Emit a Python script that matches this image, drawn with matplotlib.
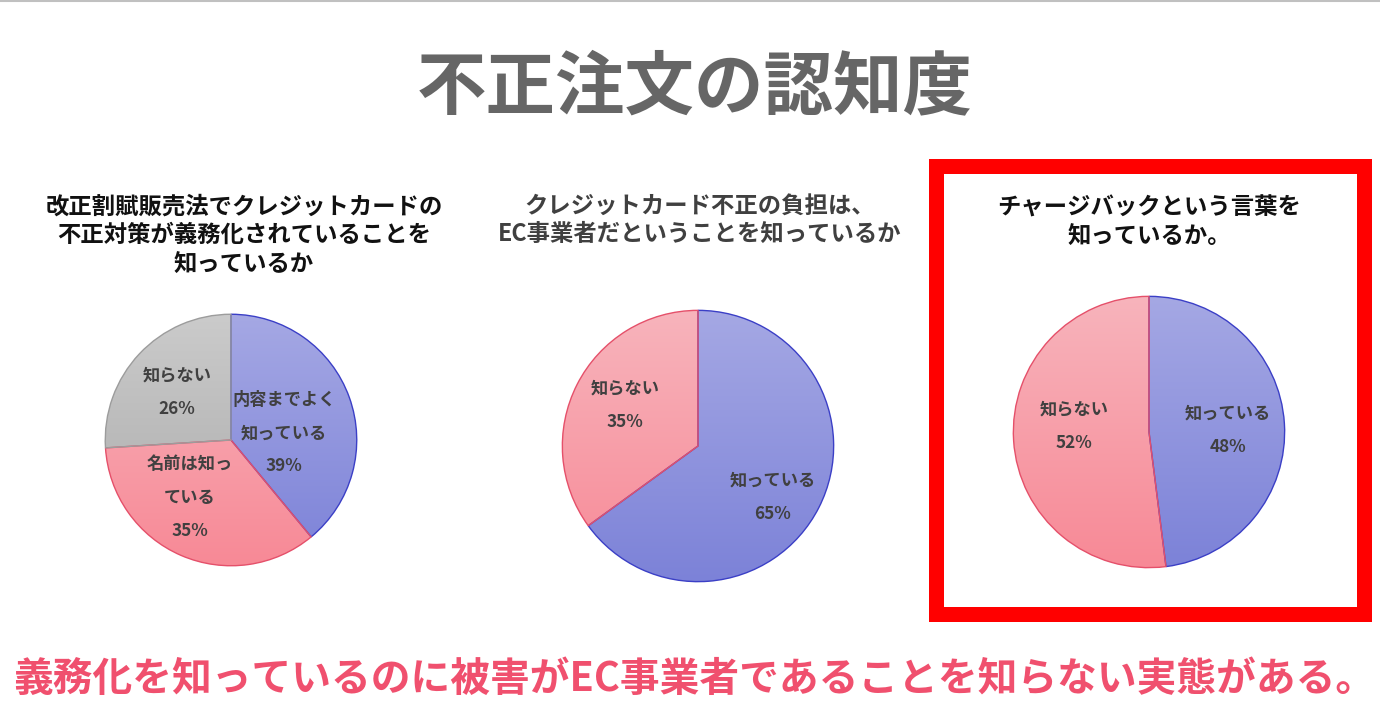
#!/usr/bin/env python3
"""Awareness of fraudulent orders: three pie charts with gradient wedges."""

import matplotlib
matplotlib.use("Agg")
import matplotlib.pyplot as plt
import numpy as np
from matplotlib.colors import LinearSegmentedColormap
from matplotlib.patches import Rectangle

plt.rcParams["font.family"] = ["Noto Sans CJK JP", "DejaVu Sans"]

W, H = 1380, 711

TITLE = "不正注文の認知度"
FOOTER = "義務化を知っているのに被害がEC事業者であることを知らない実態がある。"

# pie 1: 改正割賦販売法
q1_title = "改正割賦販売法でクレジットカードの\n不正対策が義務化されていることを\n知っているか"
q1_labels = ["内容までよく\n知っている", "名前は知っ\nている", "知らない"]
q1_values = [39, 35, 26]

# pie 2: chargeback burden
q2_title = "クレジットカード不正の負担は、\nEC事業者だということを知っているか"
q2_labels = ["知っている", "知らない"]
q2_values = [65, 35]

# pie 3: the word "chargeback"
q3_title = "チャージバックという言葉を\n知っているか。"
q3_labels = ["知っている", "知らない"]
q3_values = [48, 52]

# gradient (top, bottom) and edge colour per wedge type
BLUE = ("#a5a8e4", "#7c82d8", "#3b3fc6")
PINK = ("#f8b4bc", "#f78996", "#e5506a")
GRAY = ("#cbcbcb", "#a9a9a9", "#9c9c9c")

fig = plt.figure(figsize=(W / 100, H / 100), dpi=100)
bg = fig.add_axes([0, 0, 1, 1])
bg.set_xlim(0, W)
bg.set_ylim(H, 0)
bg.axis("off")

bg.plot([0, W], [1, 1], color="#c0c0c0", lw=1.5)
bg.text(695, 88, TITLE, fontsize=50, fontweight="bold", color="#666666",
        ha="center", va="center")
bg.text(694, 679, FOOTER, fontsize=28.6, fontweight="bold", color="#f0506e",
        ha="center", va="center")
bg.add_patch(Rectangle((935.5, 165.5), 428, 448.5, fill=False,
                       edgecolor="#ff0000", lw=10.8, joinstyle="miter"))

bg.text(244, 235, q1_title, fontsize=16.8, fontweight="bold", color="#111111",
        ha="center", va="center", linespacing=1.25)
bg.text(700, 220, q2_title, fontsize=16.8, fontweight="bold", color="#404040",
        ha="center", va="center", linespacing=1.25)
bg.text(1149, 222, q3_title, fontsize=16.8, fontweight="bold", color="#111111",
        ha="center", va="center", linespacing=1.25)


def draw_pie(cx, cy, r, values, labels, styles, label_pos):
    ax = fig.add_axes([(cx - r) / W, (H - cy - r) / H, 2 * r / W, 2 * r / H])
    wedges, _ = ax.pie(values, startangle=90, counterclock=False, radius=1,
                       wedgeprops=dict(linewidth=1.0))
    grad = np.linspace(0, 1, 256).reshape(-1, 1)
    for w, (top, bottom, edge) in zip(wedges, styles):
        w.set_facecolor("none")
        w.set_edgecolor(edge)
        w.set_zorder(3)
        cmap = LinearSegmentedColormap.from_list("g", [top, bottom])
        im = ax.imshow(grad, cmap=cmap, extent=(-1, 1, -1, 1), aspect="auto",
                       origin="upper", zorder=2, interpolation="bilinear")
        im.set_clip_path(w)
    for (lx, ly), lab, v in zip(label_pos, labels, values):
        ax.text(lx, ly, f"{lab}\n{v}%", fontsize=12.4, fontweight="bold",
                color="#404040", ha="center", va="center", linespacing=2.1,
                zorder=4)
    ax.set_xlim(-1.01, 1.01)
    ax.set_ylim(-1.01, 1.01)
    ax.axis("off")


draw_pie(231, 440, 127, q1_values, q1_labels, [BLUE, PINK, GRAY],
         [(0.42, 0.055), (-0.33, -0.46), (-0.43, 0.38)])
draw_pie(698, 446, 137, q2_values, q2_labels, [BLUE, PINK],
         [(0.55, -0.38), (-0.54, 0.30)])
draw_pie(1149, 432, 137, q3_values, q3_labels, [BLUE, PINK],
         [(0.58, 0.015), (-0.55, 0.044)])

fig.savefig("out.png", dpi=100)
